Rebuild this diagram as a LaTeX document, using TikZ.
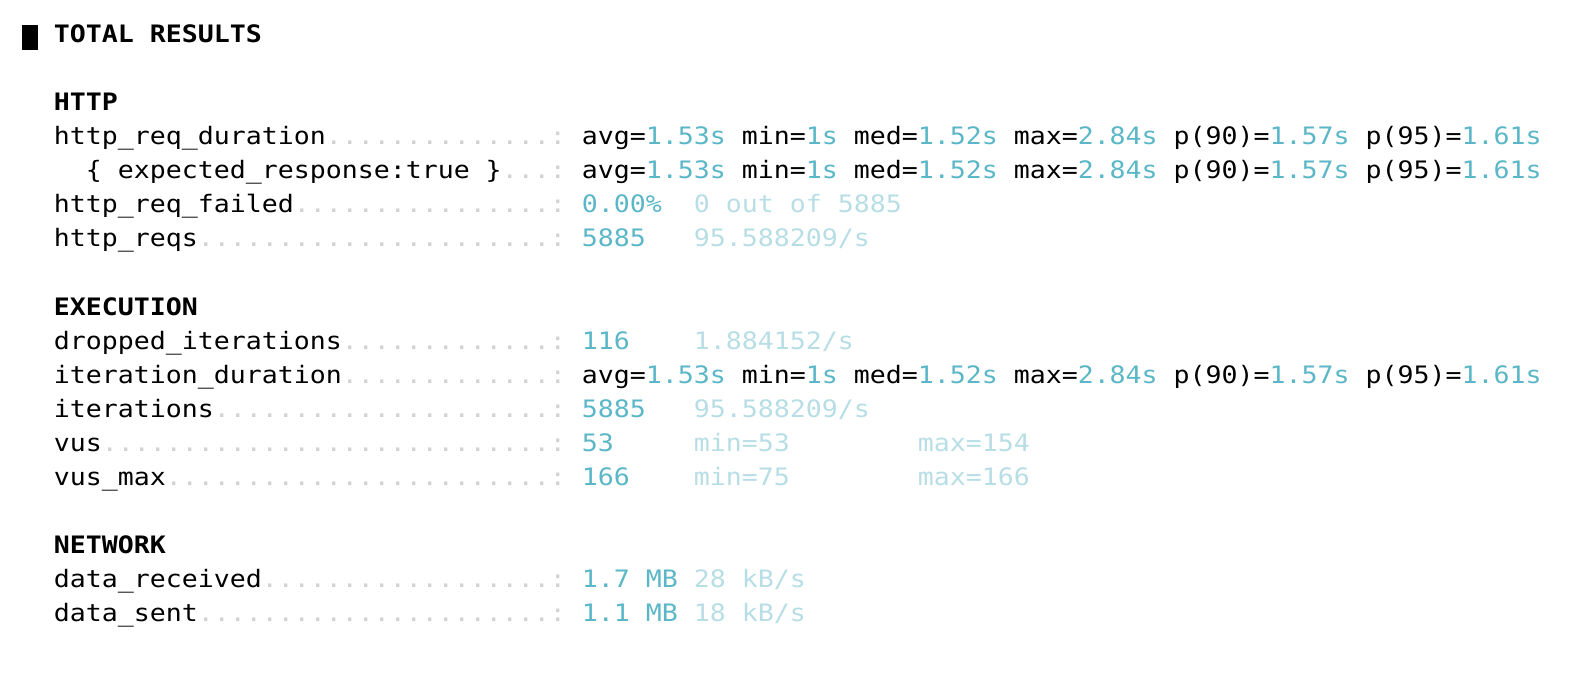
\documentclass[tikz,border=0pt]{standalone}
\usepackage{fontspec}
\setmonofont[FakeStretch=1.107]{DejaVu Sans Mono}
\definecolor{valteal}{RGB}{91,183,199}
\definecolor{valpale}{RGB}{184,222,229}
\definecolor{leadgray}{RGB}{210,210,210}
\newcommand{\hv}[1]{\textcolor{valteal}{#1}}
\newcommand{\durstats}{avg=\hv{1.53s} min=\hv{1s} med=\hv{1.52s} max=\hv{2.84s} p(90)=\hv{1.57s} p(95)=\hv{1.61s}}

\begin{document}
\begin{tikzpicture}[
    term/.style={inner sep=0pt, anchor=base west, font=\ttfamily\fontsize{12}{17}\selectfont},
    metric/.style={term, text=black},
    section/.style={term, font=\ttfamily\bfseries\fontsize{12}{17}\selectfont},
    value/.style={term, text=valteal},
    rate/.style={term, text=valpale},
    leader/.style={term, text=leadgray},
]
\useasboundingbox (0,0) rectangle (792pt,-350pt);
% one unit = one character cell, one line
\begin{scope}[shift={(26.75pt,-21.5pt)}, x=8pt, y=-17pt]
    \node[fill=black, inner sep=0pt, minimum width=8pt, minimum height=12.5pt, anchor=south west] (mark) at ([yshift=-3.5pt]-2,0) {};
    \node[section] (total) at (0,0) {TOTAL RESULTS};

    % HTTP
    \node[section] (http) at (0,2) {HTTP};
    \node[metric] (reqdur) at (0,3) {http\_req\_duration};
    \foreach \c in {17,...,30} \node[leader] (reqdur-\c) at (\c,3) {.};
    \node[leader] (reqdur-c) at (31,3) {:};
    \node[metric] (reqdur-v) at (33,3) {\durstats};
    \node[metric] (expected) at (2,4) {\{ expected\_response:true \}};
    \foreach \c in {28,...,30} \node[leader] (expected-\c) at (\c,4) {.};
    \node[leader] (expected-c) at (31,4) {:};
    \node[metric] (expected-v) at (33,4) {\durstats};
    \node[metric] (failed) at (0,5) {http\_req\_failed};
    \foreach \c in {15,...,30} \node[leader] (failed-\c) at (\c,5) {.};
    \node[leader] (failed-c) at (31,5) {:};
    \node[value] (failed-v) at (33,5) {0.00\%};
    \node[rate] (failed-r) at (40,5) {0 out of 5885};
    \node[metric] (reqs) at (0,6) {http\_reqs};
    \foreach \c in {9,...,30} \node[leader] (reqs-\c) at (\c,6) {.};
    \node[leader] (reqs-c) at (31,6) {:};
    \node[value] (reqs-v) at (33,6) {5885};
    \node[rate] (reqs-r) at (40,6) {95.588209/s};

    % EXECUTION
    \node[section] (exec) at (0,8) {EXECUTION};
    \node[metric] (dropped) at (0,9) {dropped\_iterations};
    \foreach \c in {18,...,30} \node[leader] (dropped-\c) at (\c,9) {.};
    \node[leader] (dropped-c) at (31,9) {:};
    \node[value] (dropped-v) at (33,9) {116};
    \node[rate] (dropped-r) at (40,9) {1.884152/s};
    \node[metric] (iterdur) at (0,10) {iteration\_duration};
    \foreach \c in {18,...,30} \node[leader] (iterdur-\c) at (\c,10) {.};
    \node[leader] (iterdur-c) at (31,10) {:};
    \node[metric] (iterdur-v) at (33,10) {\durstats};
    \node[metric] (iters) at (0,11) {iterations};
    \foreach \c in {10,...,30} \node[leader] (iters-\c) at (\c,11) {.};
    \node[leader] (iters-c) at (31,11) {:};
    \node[value] (iters-v) at (33,11) {5885};
    \node[rate] (iters-r) at (40,11) {95.588209/s};
    \node[metric] (vus) at (0,12) {vus};
    \foreach \c in {3,...,30} \node[leader] (vus-\c) at (\c,12) {.};
    \node[leader] (vus-c) at (31,12) {:};
    \node[value] (vus-v) at (33,12) {53};
    \node[rate] (vus-min) at (40,12) {min=53};
    \node[rate] (vus-max) at (54,12) {max=154};
    \node[metric] (vusmax) at (0,13) {vus\_max};
    \foreach \c in {7,...,30} \node[leader] (vusmax-\c) at (\c,13) {.};
    \node[leader] (vusmax-c) at (31,13) {:};
    \node[value] (vusmax-v) at (33,13) {166};
    \node[rate] (vusmax-min) at (40,13) {min=75};
    \node[rate] (vusmax-max) at (54,13) {max=166};

    % NETWORK
    \node[section] (net) at (0,15) {NETWORK};
    \node[metric] (recv) at (0,16) {data\_received};
    \foreach \c in {13,...,30} \node[leader] (recv-\c) at (\c,16) {.};
    \node[leader] (recv-c) at (31,16) {:};
    \node[value] (recv-v) at (33,16) {1.7 MB};
    \node[rate] (recv-r) at (40,16) {28 kB/s};
    \node[metric] (sent) at (0,17) {data\_sent};
    \foreach \c in {9,...,30} \node[leader] (sent-\c) at (\c,17) {.};
    \node[leader] (sent-c) at (31,17) {:};
    \node[value] (sent-v) at (33,17) {1.1 MB};
    \node[rate] (sent-r) at (40,17) {18 kB/s};
\end{scope}
\end{tikzpicture}
\end{document}
